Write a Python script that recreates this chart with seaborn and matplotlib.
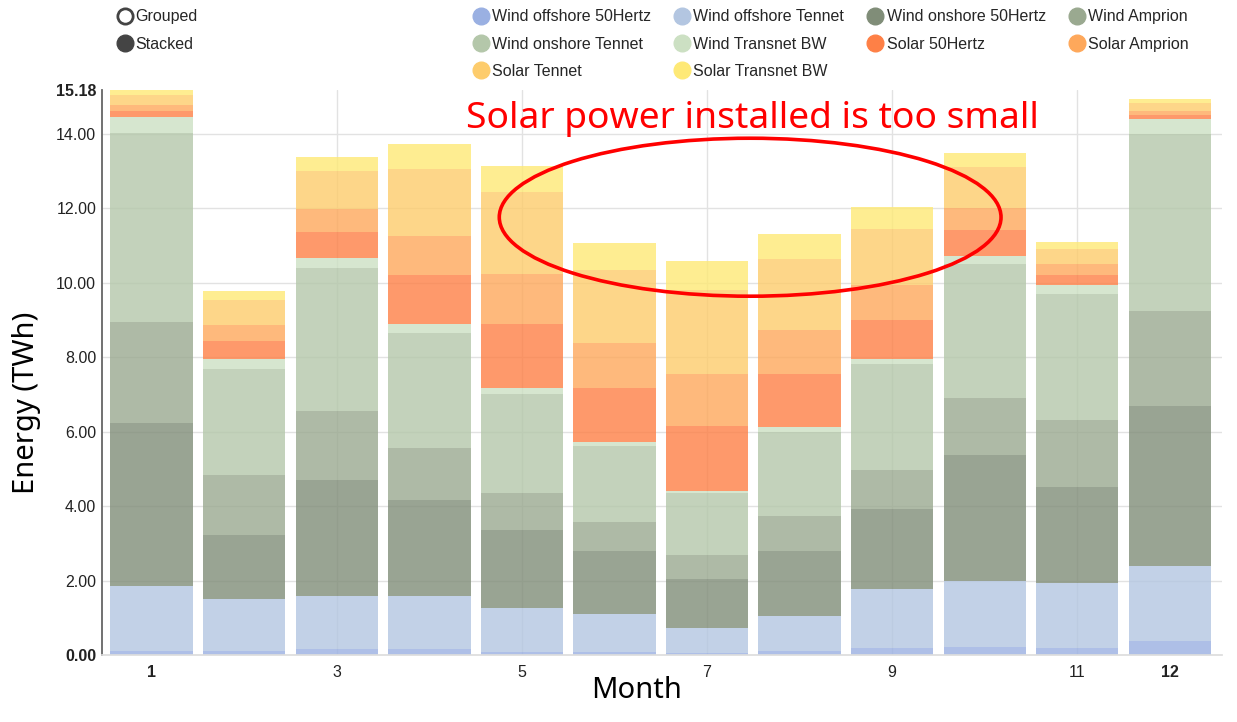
import matplotlib
matplotlib.use("Agg")
import matplotlib.pyplot as plt
import seaborn as sns
import numpy as np
import pandas as pd
from matplotlib.lines import Line2D
from matplotlib.patches import Ellipse

### Data (TWh per month)
months = list(range(1, 13))
wind_offshore_50hertz = [0.12, 0.12, 0.18, 0.18, 0.08, 0.08, 0.05, 0.12, 0.20, 0.22, 0.20, 0.38]
wind_offshore_tennet = [1.75, 1.40, 1.42, 1.40, 1.20, 1.03, 0.68, 0.94, 1.57, 1.77, 1.75, 2.03]
wind_onshore_50hertz = [4.37, 1.72, 3.11, 2.59, 2.09, 1.69, 1.31, 1.75, 2.16, 3.39, 2.56, 4.29]
wind_amprion = [2.71, 1.59, 1.86, 1.39, 1.00, 0.78, 0.65, 0.94, 1.05, 1.54, 1.82, 2.54]
wind_onshore_tennet = [5.08, 2.86, 3.83, 3.10, 2.65, 2.05, 1.66, 2.25, 2.84, 3.59, 3.38, 4.76]
wind_transnet_bw = [0.42, 0.27, 0.27, 0.24, 0.17, 0.10, 0.07, 0.13, 0.15, 0.22, 0.24, 0.40]
solar_50hertz = [0.17, 0.49, 0.70, 1.30, 1.71, 1.46, 1.73, 1.43, 1.04, 0.68, 0.27, 0.10]
solar_amprion = [0.16, 0.43, 0.62, 1.07, 1.34, 1.20, 1.40, 1.17, 0.94, 0.61, 0.29, 0.13]
solar_tennet = [0.27, 0.67, 1.01, 1.79, 2.20, 1.95, 2.27, 1.92, 1.51, 1.09, 0.41, 0.19]
solar_transnet_bw = [0.13, 0.22, 0.38, 0.68, 0.69, 0.73, 0.78, 0.67, 0.58, 0.37, 0.19, 0.11]

series_names = ["Wind offshore 50Hertz", "Wind offshore Tennet", "Wind onshore 50Hertz",
                "Wind Amprion", "Wind onshore Tennet", "Wind Transnet BW",
                "Solar 50Hertz", "Solar Amprion", "Solar Tennet", "Solar Transnet BW"]
series_values = [wind_offshore_50hertz, wind_offshore_tennet, wind_onshore_50hertz,
                 wind_amprion, wind_onshore_tennet, wind_transnet_bw,
                 solar_50hertz, solar_amprion, solar_tennet, solar_transnet_bw]
series_colors = ["#9ab0e2", "#b3c6e1", "#808d78", "#9aa990", "#b4c7aa", "#cce0c3",
                 "#fe8046", "#fea85b", "#fdcc6c", "#fee976"]

x_ticks = [1, 3, 5, 7, 9, 11, 12]
y_ticks = [0, 2, 4, 6, 8, 10, 12, 14, 15.18]

df = pd.DataFrame({"month": months})
for name, vals in zip(series_names, series_values):
    df[name] = vals

sns.set_theme(style="white")
plt.rcParams["font.family"] = ["Liberation Sans", "DejaVu Sans"]

fig = plt.figure(figsize=(12.37, 7.22), dpi=100)
ax = fig.add_axes([0.0822, 0.0924, 0.9054, 0.7829])

### Stacked bars
bottom = np.zeros(len(months))
for name, color in zip(series_names, series_colors):
    sns.barplot(data=df, x="month", y=name, native_scale=True, color=color, saturation=1,
                alpha=0.8, width=0.89, bottom=bottom, errorbar=None, linewidth=0,
                ax=ax, zorder=2)
    bottom = bottom + df[name].values

ax.set_xlim(0.46, 12.56)
ax.set_ylim(0, 15.18)
ax.set_xticks(x_ticks)
ax.set_xticklabels([str(m) for m in x_ticks])
ax.set_yticks(y_ticks)
ax.set_yticklabels([f"{v:.2f}" for v in y_ticks])
for lab in ax.get_xticklabels():
    if lab.get_text() in ("1", "12"):
        lab.set_fontweight("bold")
for lab in ax.get_yticklabels():
    if lab.get_text() in ("0.00", "15.18"):
        lab.set_fontweight("bold")
ax.tick_params(axis="both", length=0, labelsize=11.5, colors="#222222")
ax.tick_params(axis="y", pad=4)
ax.tick_params(axis="x", pad=7)

ax.grid(True, color="#e2e2e2", linewidth=1, zorder=0)
ax.set_axisbelow(True)
for tick, gl in zip(x_ticks, ax.xaxis.get_gridlines()):
    if tick in (1, 12):
        gl.set_visible(False)
ax.yaxis.get_gridlines()[-1].set_visible(False)
ax.yaxis.get_gridlines()[0].set_visible(False)

for side in ["top", "right"]:
    ax.spines[side].set_visible(False)
ax.spines["left"].set_color("#666666")
ax.spines["left"].set_linewidth(1.3)
ax.spines["bottom"].set_color("#dddddd")

ax.set_xlabel("Month", fontsize=21, family=["Noto Sans", "DejaVu Sans"], color="black")
ax.set_ylabel("Energy (TWh)", fontsize=21, family=["Noto Sans", "DejaVu Sans"], color="black")
ax.xaxis.set_label_coords(0.478, -0.036)
ax.yaxis.set_label_coords(-0.054, 0.446)

### Annotation
ax.add_patch(Ellipse((0.579, 0.775), 0.448, 0.2795, transform=ax.transAxes, fill=False,
                     edgecolor="red", linewidth=2.6, zorder=5, clip_on=False))
ax.text(0.581, 0.949, "Solar power installed is too small", transform=ax.transAxes,
        ha="center", va="center", color="red", fontsize=26.8,
        family=["Noto Sans", "DejaVu Sans"], zorder=6)

### Legends
handles = {n: Line2D([], [], marker="o", linestyle="none", markersize=12,
                     markerfacecolor=c, markeredgecolor=c)
           for n, c in zip(series_names, series_colors)}
order = ["Wind offshore 50Hertz", "Wind onshore Tennet", "Solar Tennet",
         "Wind offshore Tennet", "Wind Transnet BW", "Solar Transnet BW",
         "Wind onshore 50Hertz", "Solar 50Hertz",
         "Wind Amprion", "Solar Amprion"]
fig.legend([handles[n] for n in order], order, ncol=4, loc="upper left",
           bbox_to_anchor=(0.383, 0.987), frameon=False, fontsize=11.5,
           handlelength=0.9, handletextpad=0.25, columnspacing=1.5,
           labelspacing=0.76, borderpad=0, borderaxespad=0)

mode_handles = [Line2D([], [], marker="o", linestyle="none", markersize=11,
                       markerfacecolor="white", markeredgecolor="#444444", markeredgewidth=2),
                Line2D([], [], marker="o", linestyle="none", markersize=12,
                       markerfacecolor="#444444", markeredgecolor="#444444")]
fig.legend(mode_handles, ["Grouped", "Stacked"], loc="upper left",
           bbox_to_anchor=(0.0955, 0.987), frameon=False, fontsize=11.5,
           handlelength=0.9, handletextpad=0.2, labelspacing=0.76,
           borderpad=0, borderaxespad=0)

fig.savefig("out.png", dpi=100)
